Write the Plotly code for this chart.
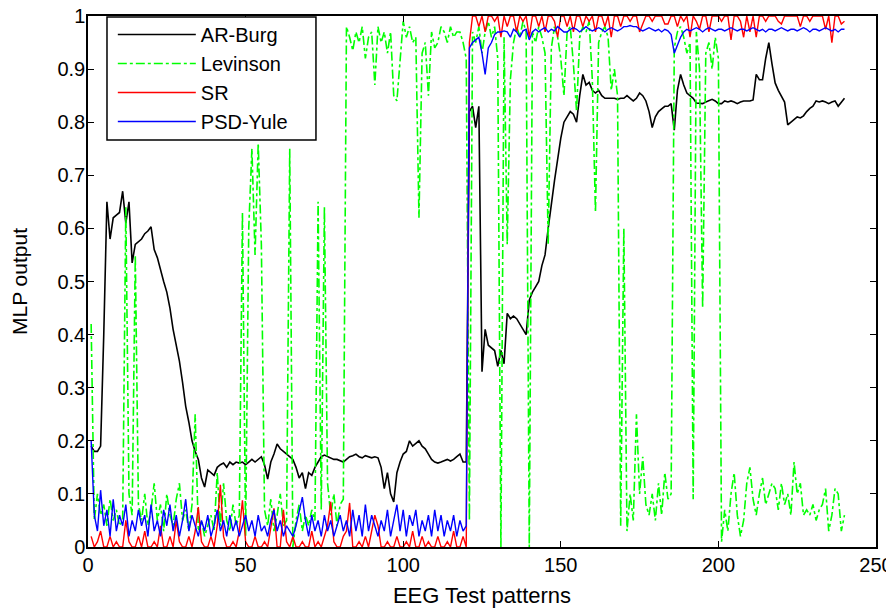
import plotly.graph_objects as go

x_patterns = list(range(1, 241))

ar_burg = [
    0.19, 0.18, 0.18, 0.19, 0.40, 0.65, 0.58, 0.62, 0.625, 0.63,
    0.67, 0.61, 0.65, 0.535, 0.57, 0.575, 0.58, 0.59, 0.595, 0.603,
    0.56, 0.545, 0.52, 0.50, 0.48, 0.45, 0.41, 0.38, 0.35, 0.31,
    0.265, 0.235, 0.20, 0.18, 0.165, 0.13, 0.113, 0.145, 0.14, 0.135,
    0.15, 0.155, 0.158, 0.15, 0.16, 0.155, 0.16, 0.158, 0.16, 0.155,
    0.16, 0.165, 0.16, 0.165, 0.17, 0.155, 0.128, 0.16, 0.175, 0.194,
    0.185, 0.18, 0.175, 0.17, 0.165, 0.15, 0.13, 0.14, 0.11, 0.14,
    0.135, 0.15, 0.16, 0.17, 0.173, 0.17, 0.168, 0.165, 0.165, 0.163,
    0.16, 0.165, 0.17, 0.172, 0.175, 0.17, 0.168, 0.172, 0.17, 0.168,
    0.17, 0.168, 0.15, 0.11, 0.14, 0.10, 0.085, 0.14, 0.16, 0.175,
    0.18, 0.20, 0.19, 0.195, 0.20, 0.19, 0.185, 0.175, 0.165, 0.16,
    0.158, 0.16, 0.163, 0.165, 0.162, 0.165, 0.17, 0.175, 0.16, 0.16,
    0.82, 0.83, 0.79, 0.83, 0.33, 0.41, 0.38, 0.375, 0.37, 0.34,
    0.37, 0.345, 0.44, 0.43, 0.435, 0.43, 0.42, 0.41, 0.40, 0.465,
    0.48, 0.49, 0.50, 0.53, 0.55, 0.60, 0.65, 0.69, 0.73, 0.77,
    0.80, 0.81, 0.82, 0.815, 0.80, 0.85, 0.89, 0.87, 0.875, 0.86,
    0.855, 0.86, 0.85, 0.845, 0.845, 0.845, 0.845, 0.843, 0.845, 0.845,
    0.85, 0.845, 0.84, 0.845, 0.855, 0.85, 0.84, 0.82, 0.79, 0.81,
    0.82, 0.825, 0.83, 0.83, 0.835, 0.785, 0.86, 0.89, 0.87, 0.855,
    0.85, 0.845, 0.836, 0.835, 0.835, 0.838, 0.84, 0.843, 0.84, 0.835,
    0.835, 0.84, 0.838, 0.84, 0.838, 0.835, 0.838, 0.84, 0.84, 0.84,
    0.842, 0.89, 0.88, 0.88, 0.92, 0.95, 0.91, 0.874, 0.86, 0.85,
    0.838, 0.795, 0.80, 0.805, 0.81, 0.808, 0.812, 0.82, 0.826, 0.83,
    0.84, 0.838, 0.84, 0.838, 0.835, 0.838, 0.84, 0.83, 0.838, 0.845,
]

levinson = [
    0.42, 0.05, 0.10, 0.06, 0.08, 0.04, 0.09, 0.05, 0.07, 0.04,
    0.05, 0.64, 0.10, 0.06, 0.55, 0.08, 0.05, 0.10, 0.04, 0.07,
    0.12, 0.05, 0.08, 0.03, 0.10, 0.06, 0.04, 0.09, 0.12, 0.05,
    0.07, 0.03, 0.08, 0.25, 0.03, 0.05, 0.02, 0.04, 0.06, 0.03,
    0.14, 0.04, 0.12, 0.05, 0.03, 0.08, 0.04, 0.06, 0.63, 0.02,
    0.60, 0.75, 0.55, 0.76, 0.57, 0.07, 0.04, 0.09, 0.03, 0.06,
    0.10, 0.04, 0.05, 0.75, 0.00, 0.05, 0.08, 0.03, 0.06, 0.04,
    0.07, 0.05, 0.65, 0.07, 0.64, 0.12, 0.06, 0.10, 0.04, 0.08,
    0.09, 0.98, 0.96, 0.935, 0.97, 0.95, 0.98, 0.92, 0.96, 0.97,
    0.87, 0.98, 0.95, 0.97, 0.93, 0.97, 0.85, 0.84, 0.92, 0.99,
    0.96, 0.98, 0.95, 0.96, 0.62, 0.93, 0.95, 0.85, 0.97, 0.94,
    0.95, 0.98, 0.97, 0.95, 0.98, 0.96, 0.97, 0.97, 0.95, 0.92,
    0.05, 0.97, 0.95, 0.98, 0.93, 0.97, 0.99, 0.96, 0.98, 0.92,
    0.00, 0.96, 0.57, 0.88, 0.95, 0.98, 0.96, 0.99, 0.97, 0.00,
    0.97, 0.95, 0.98, 0.96, 0.93, 0.57, 0.94, 0.98, 0.96, 0.92,
    0.85, 0.97, 0.98, 0.91, 0.82, 0.96, 0.98, 0.97, 0.99, 0.88,
    0.63, 0.95, 0.97, 0.98, 0.96, 0.86, 0.90, 0.85, 0.04, 0.60,
    0.03, 0.10, 0.05, 0.25, 0.10, 0.17, 0.08, 0.06, 0.10, 0.05,
    0.12, 0.06, 0.14, 0.09, 0.10, 0.94, 0.97, 0.98, 0.96, 0.93,
    0.95, 0.09, 0.97, 0.90, 0.45, 0.93, 0.95, 0.90, 0.96, 0.92,
    0.01, 0.07, 0.03, 0.10, 0.14, 0.06, 0.02, 0.05, 0.12, 0.15,
    0.09, 0.06, 0.10, 0.13, 0.08, 0.10, 0.12, 0.11, 0.07, 0.12,
    0.08, 0.10, 0.06, 0.16, 0.10, 0.12, 0.06, 0.07, 0.06, 0.08,
    0.05, 0.07, 0.08, 0.11, 0.03, 0.06, 0.11, 0.10, 0.03, 0.06,
]

sr = [
    0.02, 0.00, 0.01, 0.03, 0.00, 0.00, 0.02, 0.00, 0.01, 0.00,
    0.00, 0.05, 0.01, 0.00, 0.00, 0.02, 0.00, 0.03, 0.00, 0.00,
    0.01, 0.00, 0.04, 0.00, 0.00, 0.02, 0.00, 0.05, 0.01, 0.00,
    0.00, 0.02, 0.00, 0.03, 0.075, 0.01, 0.00, 0.00, 0.02, 0.00,
    0.04, 0.117, 0.02, 0.00, 0.00, 0.01, 0.00, 0.03, 0.088, 0.01,
    0.00, 0.00, 0.02, 0.00, 0.00, 0.01, 0.00, 0.04, 0.073, 0.00,
    0.00, 0.07, 0.01, 0.00, 0.02, 0.00, 0.00, 0.01, 0.00, 0.00,
    0.03, 0.00, 0.01, 0.00, 0.02, 0.04, 0.085, 0.01, 0.00, 0.00,
    0.02, 0.03, 0.083, 0.00, 0.00, 0.01, 0.00, 0.02, 0.00, 0.03,
    0.06, 0.04, 0.00, 0.00, 0.01, 0.00, 0.00, 0.02, 0.00, 0.00,
    0.01, 0.00, 0.03, 0.00, 0.00, 0.02, 0.00, 0.01, 0.00, 0.00,
    0.02, 0.00, 0.00, 0.01, 0.00, 0.03, 0.00, 0.00, 0.02, 0.00,
    0.95, 1.00, 1.00, 0.98, 1.00, 0.97, 1.00, 1.00, 0.99, 1.00,
    0.96, 1.00, 0.98, 1.00, 1.00, 0.97, 1.00, 0.99, 1.00, 0.96,
    1.00, 1.00, 0.98, 1.00, 0.97, 1.00, 1.00, 0.99, 0.96, 1.00,
    1.00, 0.98, 1.00, 0.97, 1.00, 1.00, 0.98, 1.00, 0.99, 1.00,
    0.97, 1.00, 1.00, 0.98, 1.00, 0.96, 1.00, 1.00, 0.98, 1.00,
    1.00, 0.99, 1.00, 1.00, 0.97, 0.985, 1.00, 1.00, 0.99, 1.00,
    1.00, 1.00, 0.985, 0.985, 1.00, 1.00, 0.98, 1.00, 0.99, 1.00,
    0.96, 1.00, 0.99, 0.975, 1.00, 1.00, 0.97, 1.00, 1.00, 1.00,
    0.99, 1.00, 1.00, 0.955, 1.00, 1.00, 0.99, 0.96, 1.00, 0.97,
    1.00, 0.96, 1.00, 1.00, 0.99, 1.00, 1.00, 1.00, 0.99, 0.985,
    1.00, 1.00, 1.00, 1.00, 1.00, 0.98, 1.00, 1.00, 0.99, 1.00,
    1.00, 1.00, 1.00, 0.975, 1.00, 0.95, 1.00, 1.00, 0.985, 0.99,
]

psd_yule = [
    0.20, 0.06, 0.03, 0.107, 0.04, 0.07, 0.02, 0.09, 0.03, 0.06,
    0.04, 0.08, 0.02, 0.05, 0.03, 0.07, 0.04, 0.06, 0.02, 0.08,
    0.03, 0.05, 0.02, 0.07, 0.04, 0.08, 0.03, 0.06, 0.02, 0.05,
    0.09, 0.03, 0.06, 0.04, 0.02, 0.05, 0.03, 0.06, 0.02, 0.04,
    0.07, 0.03, 0.05, 0.02, 0.06, 0.03, 0.05, 0.02, 0.04, 0.06,
    0.03, 0.05, 0.02, 0.06, 0.03, 0.04, 0.02, 0.05, 0.07, 0.03,
    0.05, 0.02, 0.04, 0.03, 0.02, 0.04, 0.07, 0.094, 0.05, 0.02,
    0.06, 0.03, 0.05, 0.02, 0.06, 0.03, 0.05, 0.02, 0.04, 0.06,
    0.03, 0.05, 0.02, 0.07, 0.03, 0.06, 0.02, 0.08, 0.03, 0.06,
    0.04, 0.02, 0.05, 0.03, 0.07, 0.02, 0.05, 0.08, 0.03, 0.07,
    0.02, 0.06, 0.04, 0.07, 0.02, 0.05, 0.03, 0.06, 0.02, 0.07,
    0.03, 0.06, 0.02, 0.05, 0.03, 0.06, 0.02, 0.05, 0.03, 0.04,
    0.94, 0.95, 0.955, 0.96, 0.93, 0.89, 0.94, 0.95, 0.965, 0.97,
    0.97, 0.972, 0.97, 0.96, 0.975, 0.97, 0.96, 0.972, 0.975, 0.955,
    0.97, 0.975, 0.97, 0.975, 0.978, 0.97, 0.975, 0.972, 0.98, 0.975,
    0.97, 0.97, 0.975, 0.978, 0.975, 0.97, 0.975, 0.98, 0.975, 0.972,
    0.975, 0.978, 0.975, 0.97, 0.975, 0.978, 0.975, 0.972, 0.975, 0.98,
    0.98, 0.982, 0.98, 0.98, 0.975, 0.972, 0.975, 0.978, 0.975, 0.972,
    0.975, 0.97, 0.975, 0.972, 0.965, 0.93, 0.945, 0.96, 0.97, 0.975,
    0.972, 0.975, 0.978, 0.975, 0.97, 0.975, 0.978, 0.975, 0.972, 0.975,
    0.975, 0.972, 0.975, 0.978, 0.975, 0.972, 0.975, 0.975, 0.972, 0.975,
    0.978, 0.975, 0.972, 0.975, 0.97, 0.975, 0.975, 0.972, 0.975, 0.978,
    0.975, 0.972, 0.975, 0.975, 0.972, 0.975, 0.978, 0.975, 0.97, 0.975,
    0.975, 0.972, 0.975, 0.978, 0.975, 0.972, 0.975, 0.97, 0.975, 0.975,
]

x_ticks = [0, 50, 100, 150, 200, 250]
y_ticks = [0, 0.1, 0.2, 0.3, 0.4, 0.5, 0.6, 0.7, 0.8, 0.9, 1]

FONT = "Arial, Liberation Sans, sans-serif"

fig = go.Figure()
series = [
    ("AR-Burg", ar_burg, "#000000", "solid", 1.6),
    ("Levinson", levinson, "#00ff00", "dashdot", 1.6),
    ("SR", sr, "#ff0000", "solid", 1.4),
    ("PSD-Yule", psd_yule, "#0000ff", "solid", 1.4),
]
for name, vals, col, dash, w in series:
    fig.add_trace(go.Scatter(
        x=x_patterns, y=vals, mode="lines", name=name, legendgroup=name,
        line=dict(color=col, width=w, dash=dash),
    ))

axis_common = dict(
    showline=True, linecolor="black", linewidth=1.5, mirror="ticks",
    ticks="inside", ticklen=6, tickwidth=1, tickcolor="black",
    showgrid=False, zeroline=False, automargin=False,
    ticklabeloverflow="allow",
    tickfont=dict(family=FONT, size=20, color="black"),
)

# legend frame (opaque white box above the traces, legend drawn on top)
fig.add_shape(
    type="rect", xref="paper", yref="paper",
    x0=0.0241, x1=0.2893, y0=0.7665, y1=0.998,
    line=dict(color="black", width=1.5), fillcolor="white", layer="above",
)

# the page body has an 8px default margin, so the figure is 8px smaller
fig.update_layout(
    width=886, height=602,
    margin=dict(l=80, r=18, t=8, b=63, autoexpand=False),
    paper_bgcolor="white", plot_bgcolor="white",
    font=dict(family=FONT, color="black"),
    xaxis=dict(range=[0, 250], tickvals=x_ticks, ticklabelstandoff=-1,
               title=dict(text="EEG Test patterns", font=dict(family=FONT, size=22), standoff=13),
               **axis_common),
    yaxis=dict(range=[0, 1], tickvals=y_ticks, ticklabelstandoff=-3,
               title=dict(text="MLP output", font=dict(family=FONT, size=21), standoff=26),
               **axis_common),
    legend=dict(
        x=0.0315, y=1.002, xanchor="left", yanchor="top",
        bgcolor="rgba(0,0,0,0)", borderwidth=0,
        font=dict(family=FONT, size=20, color="black"),
        itemwidth=78, tracegroupgap=0,
    ),
)

fig.write_html("out.html")
